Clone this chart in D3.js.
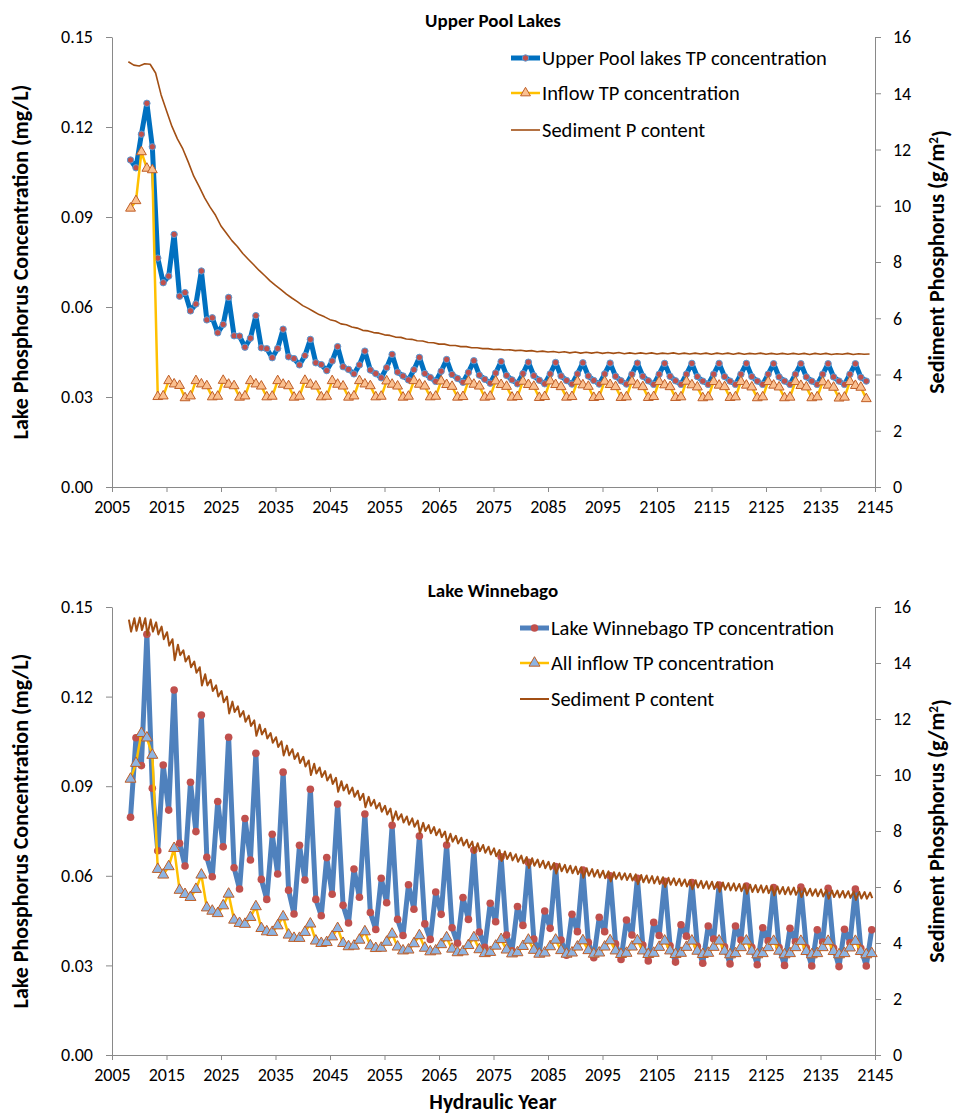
<!DOCTYPE html>
<html>
<head>
<meta charset="utf-8">
<script src="https://cdn.jsdelivr.net/npm/d3@7"></script>
<style>
  body { margin: 0; background: #fff; }
  svg text { font-family: Carlito, Calibri, Lato, "Open Sans", sans-serif; }
</style>
</head>
<body>
<svg width="955" height="1114"></svg>
<script>
// hydraulic years (one point per year)
var yearsTop = d3.range(2008, 2144);
var yearsBottom = d3.range(2008, 2145);
var sedYears = d3.range(2008, 2145);

var xTickValues = [2005, 2015, 2025, 2035, 2045, 2055, 2065, 2075, 2085, 2095, 2105, 2115, 2125, 2135, 2145];
var yTickValues = [0, 0.03, 0.06, 0.09, 0.12, 0.15];
var y2TickValues = [0, 2, 4, 6, 8, 10, 12, 14, 16];

// Upper Pool Lakes
var upperTP = [
  0.109, 0.1064, 0.1176, 0.1279, 0.1134,
  0.0763, 0.0681, 0.0703, 0.0842, 0.0636,
  0.0648, 0.0587, 0.0610, 0.0720, 0.0557,
  0.0564, 0.0514, 0.0542, 0.0632, 0.0504,
  0.0503, 0.0466, 0.0496, 0.0571, 0.0464,
  0.0461, 0.0431, 0.0462, 0.0526, 0.0434,
  0.0428, 0.0407, 0.0438, 0.0492, 0.0414,
  0.0408, 0.0388, 0.0420, 0.0468, 0.0401,
  0.0392, 0.0377, 0.0407, 0.0453, 0.0390,
  0.0378, 0.0364, 0.0398, 0.0442, 0.0383,
  0.0370, 0.0357, 0.0391, 0.0432, 0.0378,
  0.0365, 0.0352, 0.0386, 0.0425, 0.0375,
  0.0362, 0.0349, 0.0382, 0.0421, 0.0373,
  0.0359, 0.0346, 0.0380, 0.0418, 0.0372,
  0.0357, 0.0344, 0.0378, 0.0416, 0.0371,
  0.0356, 0.0344, 0.0377, 0.0415, 0.0370,
  0.0355, 0.0343, 0.0377, 0.0414, 0.0370,
  0.0355, 0.0343, 0.0377, 0.0413, 0.0369,
  0.0354, 0.0343, 0.0376, 0.0413, 0.0369,
  0.0354, 0.0342, 0.0376, 0.0412, 0.0369,
  0.0354, 0.0342, 0.0376, 0.0412, 0.0368,
  0.0353, 0.0342, 0.0376, 0.0412, 0.0368,
  0.0353, 0.0342, 0.0376, 0.0412, 0.0368,
  0.0353, 0.0342, 0.0376, 0.0411, 0.0367,
  0.0353, 0.0342, 0.0376, 0.0411, 0.0367,
  0.0353, 0.0342, 0.0376, 0.0411, 0.0367,
  0.0353, 0.0342, 0.0376, 0.0411, 0.0366,
  0.0353
];
var upperInflow = [
  0.0929, 0.0954, 0.1117, 0.1062, 0.1057,
  0.0301, 0.0303, 0.0354, 0.0343, 0.0338,
  0.0297, 0.0303, 0.0354, 0.0343, 0.0337,
  0.0300, 0.0302, 0.0355, 0.0342, 0.0337,
  0.0299, 0.0303, 0.0354, 0.0343, 0.0336,
  0.0300, 0.0302, 0.0354, 0.0342, 0.0337,
  0.0299, 0.0302, 0.0355, 0.0342, 0.0336,
  0.0300, 0.0302, 0.0354, 0.0342, 0.0336,
  0.0299, 0.0303, 0.0354, 0.0343, 0.0337,
  0.0300, 0.0302, 0.0353, 0.0342, 0.0336,
  0.0299, 0.0302, 0.0354, 0.0342, 0.0336,
  0.0300, 0.0302, 0.0353, 0.0341, 0.0335,
  0.0299, 0.0301, 0.0353, 0.0342, 0.0336,
  0.0299, 0.0302, 0.0353, 0.0341, 0.0335,
  0.0299, 0.0301, 0.0352, 0.0341, 0.0335,
  0.0298, 0.0301, 0.0353, 0.0341, 0.0334,
  0.0299, 0.0301, 0.0352, 0.0340, 0.0335,
  0.0298, 0.0301, 0.0352, 0.0341, 0.0334,
  0.0298, 0.0300, 0.0352, 0.0340, 0.0334,
  0.0298, 0.0301, 0.0351, 0.0340, 0.0334,
  0.0298, 0.0300, 0.0352, 0.0340, 0.0333,
  0.0297, 0.0300, 0.0351, 0.0339, 0.0334,
  0.0298, 0.0300, 0.0351, 0.0339, 0.0333,
  0.0297, 0.0300, 0.0351, 0.0339, 0.0333,
  0.0297, 0.0299, 0.0351, 0.0338, 0.0333,
  0.0297, 0.0300, 0.0350, 0.0339, 0.0332,
  0.0296, 0.0299, 0.0351, 0.0338, 0.0332,
  0.0294
];
var upperSediment = [
  15.12, 15.0, 14.97, 15.05, 15.03, 14.72, 13.95, 13.38, 12.82, 12.38, 12.02, 11.55,
  11.05, 10.68, 10.28, 9.95, 9.66, 9.28, 9.02, 8.76, 8.55, 8.3,
  8.1, 7.9, 7.7, 7.52, 7.33, 7.17, 7.02, 6.86, 6.72, 6.59,
  6.45, 6.35, 6.24, 6.13, 6.05, 5.95, 5.9, 5.8, 5.77, 5.69,
  5.65, 5.57, 5.55, 5.49, 5.47, 5.41, 5.39, 5.33, 5.32, 5.26,
  5.25, 5.2, 5.19, 5.14, 5.13, 5.08, 5.08, 5.03, 5.03, 4.99,
  4.99, 4.95, 4.95, 4.92, 4.92, 4.89, 4.9, 4.87, 4.88, 4.85,
  4.86, 4.83, 4.85, 4.81, 4.83, 4.8, 4.82, 4.78, 4.81, 4.77,
  4.8, 4.76, 4.79, 4.76, 4.79, 4.75, 4.78, 4.75, 4.78, 4.74,
  4.77, 4.74, 4.77, 4.74, 4.77, 4.73, 4.76, 4.74, 4.77, 4.73,
  4.76, 4.73, 4.76, 4.73, 4.76, 4.72, 4.76, 4.73, 4.76, 4.72,
  4.76, 4.72, 4.75, 4.73, 4.76, 4.72, 4.75, 4.72, 4.75, 4.72,
  4.75, 4.72, 4.75, 4.71, 4.75, 4.72, 4.75, 4.71, 4.74, 4.72,
  4.75, 4.71, 4.74, 4.72, 4.73
];

// Lake Winnebago
var winnebagoTP = [
  0.0796, 0.1062, 0.0969, 0.1409, 0.0893,
  0.0684, 0.0971, 0.0820, 0.1222, 0.0709,
  0.0633, 0.0913, 0.0748, 0.1138, 0.0662,
  0.0597, 0.0849, 0.0697, 0.1064, 0.0627,
  0.0556, 0.0792, 0.0653, 0.1010, 0.0588,
  0.0521, 0.0739, 0.0606, 0.0947, 0.0552,
  0.0472, 0.0702, 0.0586, 0.0890, 0.0521,
  0.0466, 0.0661, 0.0538, 0.0840, 0.0501,
  0.0442, 0.0623, 0.0528, 0.0807, 0.0477,
  0.0420, 0.0592, 0.0510, 0.0769, 0.0454,
  0.0400, 0.0570, 0.0488, 0.0733, 0.0439,
  0.0387, 0.0546, 0.0471, 0.0703, 0.0426,
  0.0374, 0.0527, 0.0454, 0.0686, 0.0412,
  0.0361, 0.0508, 0.0446, 0.0664, 0.0402,
  0.0349, 0.0497, 0.0434, 0.0645, 0.0388,
  0.0340, 0.0482, 0.0424, 0.0631, 0.0385,
  0.0334, 0.0471, 0.0413, 0.0619, 0.0377,
  0.0326, 0.0461, 0.0413, 0.0600, 0.0372,
  0.0320, 0.0452, 0.0402, 0.0592, 0.0368,
  0.0315, 0.0444, 0.0400, 0.0582, 0.0366,
  0.0311, 0.0436, 0.0398, 0.0577, 0.0364,
  0.0307, 0.0432, 0.0388, 0.0569, 0.0362,
  0.0305, 0.0432, 0.0385, 0.0566, 0.0361,
  0.0302, 0.0426, 0.0382, 0.0561, 0.0360,
  0.0300, 0.0424, 0.0379, 0.0562, 0.0359,
  0.0298, 0.0419, 0.0378, 0.0558, 0.0358,
  0.0296, 0.0421, 0.0376, 0.0556, 0.0357,
  0.0298, 0.0419
];
var winnebagoInflow = [
  0.0924, 0.0977, 0.1077, 0.1062, 0.1004,
  0.0622, 0.0603, 0.0631, 0.0692, 0.0552,
  0.0538, 0.0528, 0.0555, 0.0603, 0.0493,
  0.0482, 0.0474, 0.0500, 0.0539, 0.0452,
  0.0441, 0.0438, 0.0461, 0.0497, 0.0424,
  0.0413, 0.0411, 0.0433, 0.0463, 0.0402,
  0.0391, 0.0391, 0.0411, 0.0439, 0.0382,
  0.0374, 0.0377, 0.0396, 0.0424, 0.0374,
  0.0363, 0.0365, 0.0385, 0.0413, 0.0366,
  0.0357, 0.0358, 0.0378, 0.0405, 0.0362,
  0.0349, 0.0352, 0.0373, 0.0400, 0.0358,
  0.0346, 0.0349, 0.0370, 0.0393, 0.0355,
  0.0343, 0.0346, 0.0367, 0.0393, 0.0353,
  0.0340, 0.0344, 0.0365, 0.0387, 0.0352,
  0.0339, 0.0343, 0.0364, 0.0385, 0.0351,
  0.0338, 0.0342, 0.0363, 0.0385, 0.0350,
  0.0338, 0.0342, 0.0362, 0.0383, 0.0350,
  0.0338, 0.0342, 0.0362, 0.0383, 0.0349,
  0.0337, 0.0341, 0.0362, 0.0383, 0.0349,
  0.0337, 0.0341, 0.0361, 0.0382, 0.0349,
  0.0337, 0.0341, 0.0361, 0.0382, 0.0348,
  0.0337, 0.0341, 0.0361, 0.0382, 0.0348,
  0.0336, 0.0340, 0.0360, 0.0382, 0.0348,
  0.0336, 0.0340, 0.0360, 0.0381, 0.0348,
  0.0336, 0.0340, 0.0360, 0.0381, 0.0347,
  0.0336, 0.0340, 0.0360, 0.0381, 0.0347,
  0.0336, 0.0340, 0.0359, 0.0381, 0.0347,
  0.0336, 0.0340
];
// sediment P: yearly high and low of the seasonal swing
var winnebagoSedHigh = [
  15.55, 15.6, 15.62, 15.6, 15.55, 15.45, 15.3, 15.1, 14.85, 14.65, 14.45, 14.25,
  14.05, 13.85, 13.6, 13.4, 13.2, 13.0, 12.8, 12.62, 12.45, 12.28,
  12.12, 11.95, 11.8, 11.65, 11.5, 11.35, 11.2, 11.05, 10.92, 10.78,
  10.65, 10.52, 10.4, 10.27, 10.14, 10.02, 9.9, 9.78, 9.66, 9.55,
  9.44, 9.33, 9.22, 9.11, 9.0, 8.9, 8.8, 8.7, 8.6, 8.52,
  8.45, 8.37, 8.29, 8.21, 8.14, 8.06, 7.98, 7.9, 7.83, 7.76,
  7.69, 7.62, 7.56, 7.5, 7.44, 7.38, 7.32, 7.27, 7.22, 7.17,
  7.12, 7.07, 7.03, 6.98, 6.94, 6.9, 6.86, 6.83, 6.79, 6.76,
  6.73, 6.7, 6.67, 6.64, 6.61, 6.58, 6.56, 6.53, 6.51, 6.49,
  6.47, 6.45, 6.43, 6.41, 6.39, 6.37, 6.35, 6.33, 6.31, 6.29,
  6.27, 6.25, 6.24, 6.22, 6.2, 6.19, 6.17, 6.16, 6.14, 6.13,
  6.11, 6.1, 6.08, 6.07, 6.06, 6.04, 6.03, 6.02, 6.0, 5.99,
  5.98, 5.96, 5.95, 5.94, 5.92, 5.91, 5.9, 5.88, 5.87, 5.86,
  5.85, 5.84, 5.83, 5.82, 5.8
];
var winnebagoSedLow = [
  15.12, 15.15, 15.18, 15.0, 15.12, 15.02, 14.85, 14.62, 14.1, 14.28, 14.05, 13.85,
  13.65, 13.2, 13.2, 13.0, 12.8, 12.6, 12.2, 12.25, 12.08, 11.9,
  11.75, 11.4, 11.45, 11.3, 11.15, 11.0, 10.7, 10.7, 10.57, 10.43,
  10.3, 10.0, 10.05, 9.93, 9.8, 9.68, 9.4, 9.45, 9.33, 9.22,
  9.11, 8.85, 8.9, 8.8, 8.69, 8.59, 8.35, 8.4, 8.3, 8.22,
  8.15, 7.92, 8.0, 7.92, 7.85, 7.78, 7.58, 7.62, 7.55, 7.48,
  7.41, 7.22, 7.28, 7.22, 7.16, 7.1, 6.93, 7.0, 6.95, 6.9,
  6.85, 6.68, 6.76, 6.71, 6.67, 6.63, 6.48, 6.56, 6.52, 6.49,
  6.46, 6.33, 6.4, 6.37, 6.34, 6.31, 6.2, 6.29, 6.27, 6.25,
  6.23, 6.1, 6.17, 6.15, 6.13, 6.11, 6.0, 6.08, 6.06, 6.04,
  6.02, 5.92, 5.98, 5.96, 5.94, 5.93, 5.83, 5.9, 5.88, 5.87,
  5.85, 5.76, 5.82, 5.81, 5.8, 5.78, 5.7, 5.76, 5.74, 5.73,
  5.72, 5.64, 5.7, 5.69, 5.67, 5.66, 5.58, 5.64, 5.63, 5.62,
  5.61, 5.54, 5.59, 5.58, 5.6
];

var svg = d3.select("svg");
svg.append("rect").attr("width", 955).attr("height", 1114).attr("fill", "#fff");

var x = d3.scaleLinear().domain([2005, 2145]).range([112, 875]);
var axisColor = "#898989";
var sedColor = "#A24F14";

function styleAxis(sel) {
  sel.select(".domain").attr("stroke", axisColor);
  sel.selectAll(".tick line").attr("stroke", axisColor);
  sel.selectAll(".tick text").attr("fill", "#000").attr("font-size", "18px");
}

function drawPanel(p) {
  var y = d3.scaleLinear().domain([0, 0.15]).range([p.bottom, p.top]);
  var y2 = d3.scaleLinear().domain([0, 16]).range([p.bottom, p.top]);
  var g = svg.append("g");

  g.append("g")
    .attr("transform", "translate(112,0)")
    .call(d3.axisLeft(y).tickValues(yTickValues).tickFormat(d3.format(".2f")).tickSize(6).tickSizeOuter(0).tickPadding(13))
    .call(styleAxis);

  g.append("g")
    .attr("transform", "translate(875,0)")
    .call(d3.axisRight(y2).tickValues(y2TickValues).tickFormat(d3.format("d")).tickSize(6).tickSizeOuter(0).tickPadding(12))
    .call(styleAxis);

  g.append("g")
    .attr("transform", "translate(0," + p.bottom + ")")
    .call(d3.axisBottom(x).tickValues(xTickValues).tickFormat(d3.format("d")).tickSize(5).tickSizeOuter(0).tickPadding(8))
    .call(styleAxis);

  g.selectAll(".domain").attr("fill", "none");

  // titles
  g.append("text")
    .attr("x", 493).attr("y", p.top - 10)
    .attr("text-anchor", "middle").attr("font-weight", "bold").attr("font-size", "19px")
    .text(p.title);

  g.append("text")
    .attr("transform", "translate(28," + ((p.top + p.bottom) / 2) + ") rotate(-90)")
    .attr("text-anchor", "middle").attr("font-weight", "bold").attr("font-size", "22px")
    .text("Lake Phosphorus Concentration (mg/L)");

  var rt = g.append("text")
    .attr("transform", "translate(944," + ((p.top + p.bottom) / 2) + ") rotate(-90)")
    .attr("text-anchor", "middle").attr("font-weight", "bold").attr("font-size", "22px");
  rt.append("tspan").text("Sediment Phosphorus (g/m");
  rt.append("tspan").attr("dy", "-0.45em").attr("font-size", "13px").text("2");
  rt.append("tspan").attr("dy", "0.45em").text(")");

  var tpLine = d3.line().x(function (d) { return x(d.year); }).y(function (d) { return y(d.value); });

  var tpData = p.years.map(function (yr, i) { return { year: yr + 0.4, value: p.tp[i] }; });
  var inData = p.years.map(function (yr, i) { return { year: yr + 0.4, value: p.inflow[i] }; });

  g.append("path").datum(tpData)
    .attr("fill", "none").attr("stroke", p.tpColor).attr("stroke-width", 5)
    .attr("stroke-linejoin", "round")
    .attr("d", tpLine);

  g.selectAll(".tpdot").data(tpData).enter().append("circle")
    .attr("class", "tpdot")
    .attr("cx", function (d) { return x(d.year); })
    .attr("cy", function (d) { return y(d.value); })
    .attr("r", p.dotR)
    .attr("fill", "#C0504D")
    .attr("stroke", p.dotStroke)
    .attr("stroke-width", p.dotStroke === "none" ? 0 : 1);

  g.append("path").datum(inData)
    .attr("fill", "none").attr("stroke", "#FFC000").attr("stroke-width", 2.5)
    .attr("stroke-linejoin", "round")
    .attr("d", tpLine);

  g.selectAll(".tri").data(inData).enter().append("path")
    .attr("class", "tri")
    .attr("transform", function (d) { return "translate(" + x(d.year) + "," + y(d.value) + ")"; })
    .attr("d", d3.symbol(d3.symbolTriangle).size(p.triSize))
    .attr("fill", p.triFill)
    .attr("stroke", "#BF5E27")
    .attr("stroke-width", 1);

  var sedLine = d3.line().x(function (d) { return x(d.year); }).y(function (d) { return y2(d.value); });
  g.append("path").datum(p.sed)
    .attr("fill", "none").attr("stroke", sedColor).attr("stroke-width", p.sedWidth)
    .attr("stroke-linejoin", "round")
    .attr("d", sedLine);

  // legend
  var lg = g.append("g").attr("font-size", "20.5px");
  var rows = p.legendRows;
  rows.forEach(function (r, i) {
    var ry = p.legendY[i];
    var row = lg.append("g").attr("transform", "translate(" + p.legendX + "," + ry + ")");
    row.append("line").attr("x1", 0).attr("x2", 29).attr("y1", 0).attr("y2", 0)
      .attr("stroke", r.color).attr("stroke-width", r.width);
    if (r.marker === "dot") {
      row.append("circle").attr("cx", 14.5).attr("cy", 0).attr("r", p.dotR)
        .attr("fill", "#C0504D").attr("stroke", p.dotStroke).attr("stroke-width", p.dotStroke === "none" ? 0 : 1);
    } else if (r.marker === "tri") {
      row.append("path").attr("transform", "translate(14.5,0)")
        .attr("d", d3.symbol(d3.symbolTriangle).size(p.triSize))
        .attr("fill", p.triFill).attr("stroke", "#BF5E27").attr("stroke-width", 1);
    }
    row.append("text").attr("x", 31).attr("y", 0).attr("dy", "0.35em").text(r.label);
  });
}

// sediment tables
var upperSedData = sedYears.map(function (yr, i) { return { year: yr, value: upperSediment[i] }; });
var winnebagoSedData = [];
sedYears.forEach(function (yr, i) {
  winnebagoSedData.push({ year: yr + 0.1, value: winnebagoSedHigh[i] });
  winnebagoSedData.push({ year: yr + 0.5, value: winnebagoSedLow[i] });
});

drawPanel({
  top: 37, bottom: 487, title: "Upper Pool Lakes",
  years: yearsTop, tp: upperTP, inflow: upperInflow, sed: upperSedData,
  tpColor: "#0070C0", dotR: 3.2, dotStroke: "#5B9BD5",
  triSize: 42, triFill: "#FAC090", sedWidth: 1.6,
  legendX: 511, legendY: [58, 93, 130],
  legendRows: [
    { label: "Upper Pool lakes TP concentration", color: "#0070C0", width: 5, marker: "dot" },
    { label: "Inflow TP concentration", color: "#FFC000", width: 2.5, marker: "tri" },
    { label: "Sediment P content", color: sedColor, width: 1.6, marker: null }
  ]
});

drawPanel({
  top: 607, bottom: 1055, title: "Lake Winnebago",
  years: yearsBottom, tp: winnebagoTP, inflow: winnebagoInflow, sed: winnebagoSedData,
  tpColor: "#4F81BD", dotR: 3.8, dotStroke: "none",
  triSize: 52, triFill: "#8DB4E2", sedWidth: 2,
  legendX: 520, legendY: [628, 663, 699],
  legendRows: [
    { label: "Lake Winnebago TP concentration", color: "#4F81BD", width: 5, marker: "dot" },
    { label: "All inflow TP concentration", color: "#FFC000", width: 2.5, marker: "tri" },
    { label: "Sediment P content", color: sedColor, width: 2, marker: null }
  ]
});

svg.append("text")
  .attr("x", 493).attr("y", 1109)
  .attr("text-anchor", "middle").attr("font-weight", "bold").attr("font-size", "21.5px")
  .text("Hydraulic Year");
</script>
</body>
</html>
